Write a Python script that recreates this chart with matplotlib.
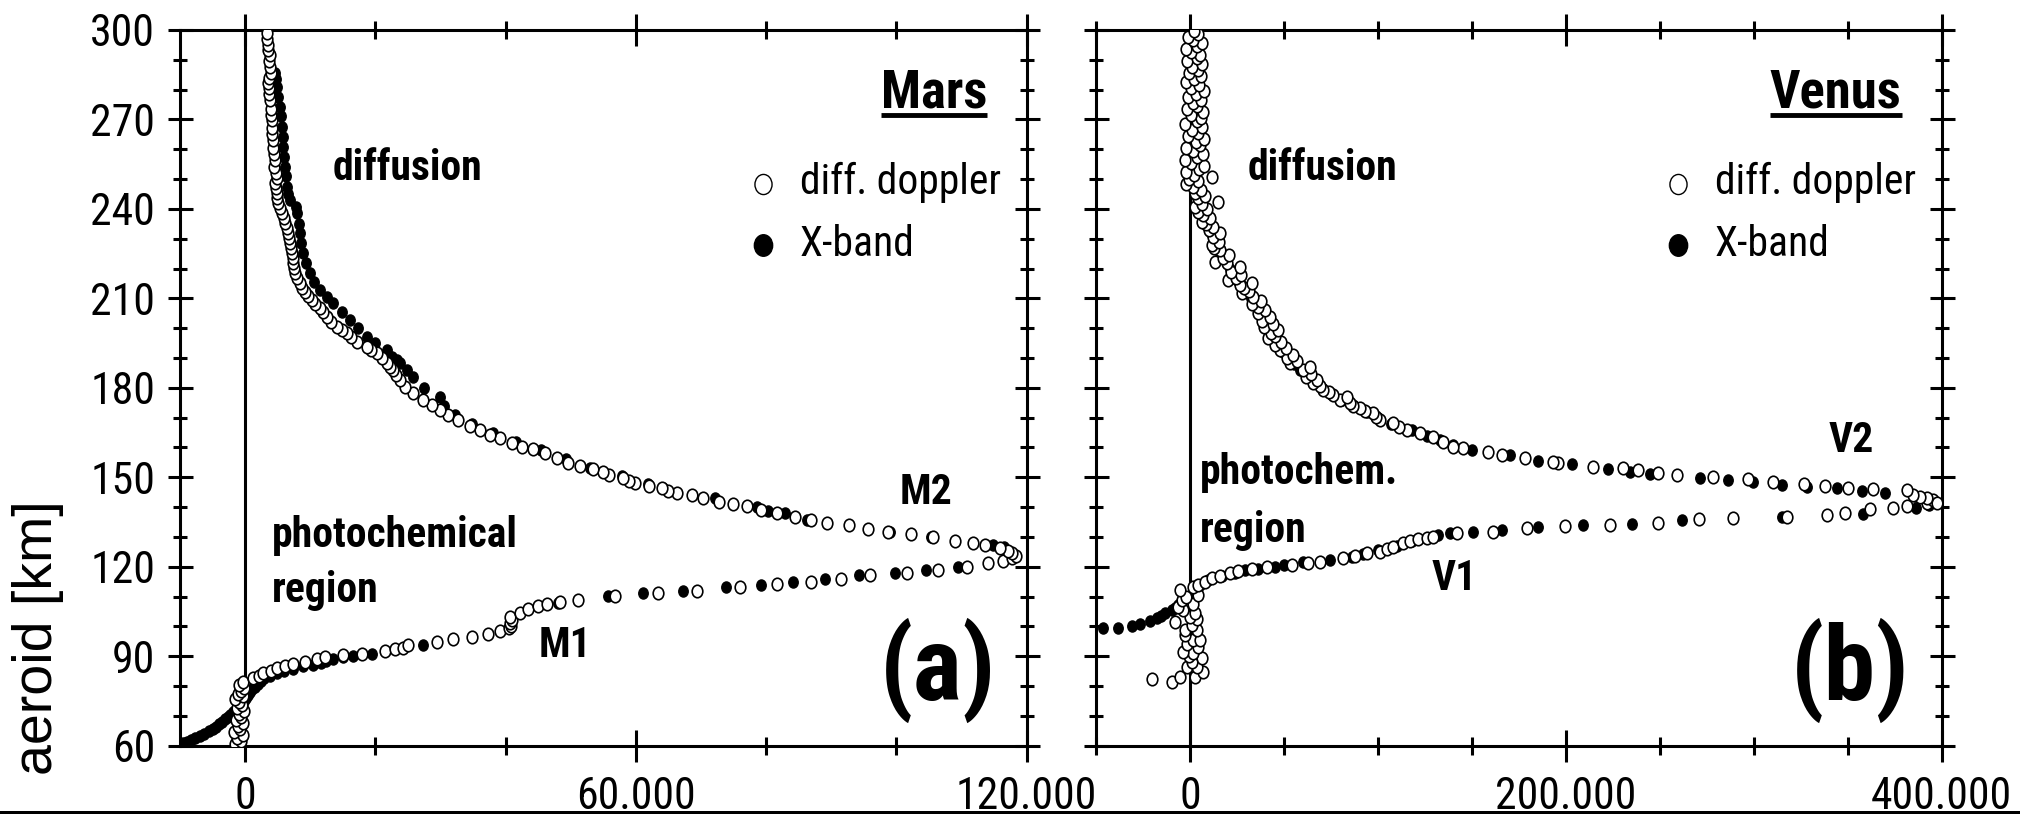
import numpy as np
import matplotlib
matplotlib.use("Agg")
import matplotlib.pyplot as plt
from matplotlib import font_manager
from matplotlib.lines import Line2D
from matplotlib.markers import MarkerStyle
from matplotlib.path import Path
from matplotlib.patches import Rectangle
from matplotlib.ticker import FixedLocator, FuncFormatter
from matplotlib.transforms import Affine2D

# ---------------------------------------------------------------------------
# Electron density profiles: (altitude [km], density [cm^-3])
# ---------------------------------------------------------------------------
MARS_DIFF_BASE = [(60.5, -1500), (61.5, -600), (62.5, -1200), (63.5, -300), (64.5, -1700),
                  (65.5, -800), (66.5, -1100), (67.5, -400), (68.5, -1400), (69.5, -700),
                  (70.5, -1000), (71.5, -200), (72.5, -1300), (73.5, -500), (74.5, -900),
                  (75.5, -1600), (76.5, -300), (77.5, -1100), (78.5, -600), (79.5, -200),
                  (80.5, -900), (81.5, -400)]
MARS_DIFF_M1 = [(82.6, 1260), (83.5, 2100), (84.3, 2800), (85.1, 3900), (85.9, 4850),
                (86.7, 6100), (87.4, 7400), (88.2, 9200), (89.0, 11000), (89.9, 12270),
                (90.5, 15000), (90.9, 17900), (91.7, 21480), (92.3, 23000), (92.8, 24300),
                (93.6, 25070), (94.7, 29420), (95.8, 31970), (96.6, 34800), (97.5, 37350),
                (98.4, 39140), (99.4, 40500), (100.3, 40900), (101.0, 40700), (102.0, 41000),
                (103.3, 40600), (104.4, 42210), (105.7, 43490), (106.8, 45020), (107.6, 46300),
                (108.3, 48400), (108.9, 51170), (110.2, 56800), (111.1, 63450), (112.0, 69440),
                (113.3, 76000), (114.2, 81630), (115.0, 86900), (115.8, 91500), (117.2, 95960),
                (118.0, 101600), (118.9, 106450), (120.0, 110800), (121.1, 114130),
                (121.9, 116340), (122.8, 117720), (123.7, 118300)]
MARS_DIFF_M2 = [(124.5, 117720), (125.4, 117200), (126.2, 115920), (127.3, 113620),
                (128.1, 111820), (128.7, 109010), (130.1, 105590), (131.0, 102210),
                (131.8, 98770), (132.6, 95700), (134.0, 92740), (134.8, 89400), (135.7, 86850),
                (136.8, 84440), (137.9, 81630), (139.2, 79200), (140.4, 77030), (141.0, 74970),
                (141.8, 72820), (142.9, 70270), (144.1, 68580), (144.8, 66280), (145.5, 65000),
                (146.3, 63970), (147.2, 62000), (148.0, 59880), (148.8, 59000), (149.7, 58080),
                (150.8, 55900), (151.9, 55010), (152.7, 53470), (153.8, 51430), (154.9, 49630),
                (156.4, 47850), (158.0, 46050), (159.4, 44260), (160.3, 42470), (161.4, 40940),
                (163.1, 39140), (164.2, 37610), (165.9, 36070), (167.2, 34540), (169.2, 32740),
                (170.9, 31200), (172.6, 29930), (174.2, 28660), (175.9, 27370), (178.2, 25830),
                (180.4, 24560)]
MARS_DIFF_TOP = [(182.6, 23790), (184.3, 23200), (186.0, 22760), (187.1, 22200), (188.2, 21740),
                 (190.0, 21000), (191.6, 20210), (192.7, 19400), (193.8, 18680), (195.5, 17140),
                 (196.9, 16300), (198.3, 15600), (199.4, 14800), (200.5, 14070), (202.2, 13200),
                 (203.9, 12530), (205.3, 11900), (206.7, 11500), (208.1, 10800), (209.5, 10230),
                 (210.9, 9700), (212.2, 9200), (213.6, 8800), (215.1, 8430), (216.8, 8000),
                 (218.4, 7660), (220.1, 7500), (221.8, 7400), (223.5, 7300), (225.1, 7150),
                 (226.8, 7000), (228.5, 6900), (230.1, 6800), (231.8, 6630), (233.5, 6400),
                 (235.2, 6130), (236.9, 5900), (238.5, 5620), (240.2, 5350), (241.9, 5100),
                 (243.5, 4950), (245.2, 4850), (246.9, 4700), (248.6, 4590), (250.3, 4850),
                 (252.0, 4700), (254.0, 4500), (256.4, 4590), (258.5, 4400), (260.5, 4300),
                 (263.1, 4330), (265.0, 4100), (267.0, 4200), (269.8, 4080), (271.5, 3900),
                 (273.5, 4000), (276.5, 3820), (278.5, 3600), (280.5, 3700), (282.1, 3560),
                 (284.0, 3700), (285.5, 3900), (287.7, 3820), (289.5, 3600), (291.5, 3750),
                 (293.3, 3560), (295.0, 3450), (297.0, 3400), (298.9, 3320)]

MARS_XBAND_BASE = [(60.3, -10000), (60.8, -9500), (61.4, -8900), (62.0, -8300), (62.6, -7700),
                   (63.3, -7000), (64.0, -6300), (64.8, -5600), (65.6, -5000), (66.4, -4500),
                   (67.2, -4000), (68.0, -3500), (68.8, -3100), (69.6, -2700), (70.4, -2300),
                   (71.3, -1900), (72.2, -1400), (73.1, -900), (74.0, -500), (75.0, -100),
                   (76.0, 200), (77.0, 500), (78.0, 800), (79.0, 1100), (79.8, 1500),
                   (80.8, 2000), (81.7, 2400), (82.6, 2900), (83.5, 3800), (84.3, 4850),
                   (85.0, 5900), (85.6, 7400), (86.6, 8940), (87.2, 10470), (87.8, 11600),
                   (88.4, 12400), (89.0, 13550), (89.6, 15000), (90.1, 16570), (90.6, 19440),
                   (93.6, 27370)]
MARS_XBAND_M1 = [(108.0, 48100), (110.2, 55780), (111.1, 61050), (112.0, 67290), (113.3, 73800),
                 (113.9, 79180), (115.0, 84180), (115.8, 89050), (117.2, 94270), (118.0, 99800),
                 (118.9, 104560), (120.0, 109520)]
MARS_XBAND_M2 = [(126.6, 116500), (127.3, 114900), (130.1, 105300), (131.8, 99000),
                 (135.7, 86300), (137.9, 82910), (138.7, 80350), (140.1, 78560), (143.0, 72160),
                 (146.3, 64200), (147.8, 61920), (150.3, 57800), (153.2, 53000), (156.0, 49200),
                 (159.0, 45400), (162.0, 41600), (165.0, 38000), (168.0, 34800), (171.0, 32200),
                 (174.0, 30500), (177.0, 29930)]
MARS_XBAND_TOP = [(180.0, 27500), (183.7, 25830), (186.0, 24800), (188.2, 23790), (189.3, 23280),
                  (190.5, 22600), (192.7, 21740), (195.0, 20000), (197.1, 18680), (200.0, 17300),
                  (202.7, 16110), (205.5, 14800), (208.3, 13540), (210.5, 12500), (212.8, 11500),
                  (215.5, 10600), (218.4, 9970), (221.7, 9400), (225.1, 8940), (228.5, 8650),
                  (231.8, 8430), (235.0, 8200), (238.5, 7920), (240.6, 7770), (243.0, 6900),
                  (245.0, 6600), (247.5, 6390), (251.0, 6250), (254.2, 6130), (257.5, 6000),
                  (260.9, 5870), (264.0, 5750), (267.6, 5620), (271.0, 5500), (274.3, 5360),
                  (277.5, 5100), (281.0, 4850), (283.5, 4700), (285.5, 4590)]

VENUS_DIFF_LOW = [(81.4, -9800), (82.2, -20400), (83.1, -5300), (83.1, 2700), (84.8, 7100),
                  (86.5, -1800), (86.5, 3600), (88.0, 1000), (89.3, 6200), (90.2, -500),
                  (91.0, 1800), (91.5, -3500), (93.0, 4500), (94.0, -1500), (95.4, 1800),
                  (95.4, 5300), (97.0, -2500), (98.8, -2700), (98.8, 3600), (100.5, 900),
                  (101.6, -8000), (102.5, 4000), (103.3, 0), (104.5, 2500), (105.5, -3500),
                  (106.5, -6500), (107.5, 1500), (108.9, -4400), (110.0, -2000), (110.6, 4400),
                  (112.2, -5300), (113.3, 1800), (113.9, 4400)]
VENUS_DIFF_V1 = [(115.0, 8000), (116.1, 11500), (116.9, 16000), (118.0, 21300), (118.6, 25500),
                 (119.3, 33000), (120.0, 41000), (120.6, 54100), (121.1, 62900), (121.7, 69200),
                 (122.8, 81600), (123.6, 88000), (124.5, 94000), (125.0, 101100), (126.0, 105000),
                 (126.7, 108200), (127.9, 113500), (128.7, 117100), (129.3, 121500),
                 (129.6, 125900), (130.1, 129500), (131.3, 141900), (131.8, 161400),
                 (132.9, 179100), (133.6, 199500), (134.0, 223500), (134.8, 249200),
                 (135.9, 271000), (136.2, 288800), (136.8, 317600), (137.4, 338800),
                 (138.1, 348500), (139.3, 361800), (139.6, 373900), (140.4, 381400),
                 (141.3, 392000), (142.4, 395600)]
VENUS_DIFF_V2 = [(141.3, 397400), (143.0, 392000), (143.5, 388500), (144.1, 384900),
                 (145.7, 381400), (146.0, 363600), (146.3, 350300), (147.1, 337900),
                 (147.6, 327000), (148.5, 310400), (149.3, 297100), (150.0, 278500),
                 (150.8, 259000), (151.6, 249200), (152.3, 238600), (153.0, 230600),
                 (153.6, 214600), (154.7, 196000), (155.3, 193000), (156.4, 178300),
                 (157.5, 165800), (158.6, 158700)]
VENUS_DIFF_TOP = [(159.7, 145400), (160.3, 140100), (161.9, 134800), (163.6, 129500),
                  (164.8, 122400), (165.9, 115300), (167.0, 111000), (168.1, 108200),
                  (169.2, 101100), (170.3, 99000), (171.5, 97500), (172.3, 93000), (173.1, 90500),
                  (174.0, 87000), (174.8, 85100), (176.0, 80000), (177.0, 83400), (177.6, 76300),
                  (178.5, 74000), (179.3, 71000), (180.5, 69000), (181.5, 65600), (182.5, 67500),
                  (183.5, 62000), (184.5, 64500), (186.0, 60300), (187.1, 63900), (188.2, 53200),
                  (189.0, 57000), (190.0, 51500), (191.0, 55000), (192.7, 47900), (193.5, 51000),
                  (194.5, 45000), (195.5, 48500), (196.6, 41700), (197.5, 45500), (198.5, 43000),
                  (199.5, 47000), (200.5, 39500), (201.5, 44000), (202.5, 38500), (203.9, 42600),
                  (205.0, 36000), (206.0, 40000), (207.2, 36300), (208.0, 33000), (209.0, 38000),
                  (210.6, 33700), (211.7, 27500), (212.5, 31500), (213.5, 29000), (214.5, 26600),
                  (215.1, 32800), (216.2, 20400), (217.0, 24500), (218.0, 27000), (219.0, 22000),
                  (220.6, 26600), (221.8, 19500), (222.3, 13300), (223.5, 17500), (224.5, 21000),
                  (226.2, 16000), (227.0, 13000), (227.9, 11500), (229.0, 15500), (230.5, 12500),
                  (231.8, 16000), (233.0, 10000), (234.0, 12400), (235.0, 8500), (235.7, 6200),
                  (237.0, 10500), (238.0, 7000), (239.0, 4500), (240.0, 9000), (240.7, 2700),
                  (241.5, 6500), (242.4, 15100), (243.5, 4500), (244.5, 8000), (245.5, 2500),
                  (246.5, 6000), (247.5, 1800), (248.3, -2200), (249.2, 4500), (250.0, -500),
                  (250.8, 11500), (251.5, 2000), (252.5, -2200), (253.5, 5000), (254.5, 7500),
                  (255.5, 500), (256.5, -2500), (257.5, 4000), (258.5, 7000), (259.5, 1500),
                  (260.5, -2000), (261.5, 5500), (262.5, 3000), (263.5, 7500), (264.5, -1000),
                  (265.5, 4500), (266.5, 1000), (267.5, 6500), (268.5, -2500), (269.5, 3500),
                  (270.5, 6000), (271.5, 500), (272.5, 7000), (273.5, -1500), (274.5, 4000),
                  (275.5, 1500), (276.5, 6000), (277.5, -1000), (278.5, 3000), (279.5, 7500),
                  (280.5, 500), (281.5, 5000), (282.5, -2000), (283.5, 2000), (284.5, 6000),
                  (285.5, -500), (286.5, 4500), (287.5, 1000), (288.5, 6500), (289.5, -1500),
                  (290.5, 3500), (291.5, 5500), (292.5, 500), (293.5, -2000), (294.5, 4000),
                  (295.5, 6500), (296.5, 1500), (297.5, -1000), (298.5, 4500), (299.5, 2000)]

VENUS_XBAND_LOW = [(99.4, -46100), (99.6, -38200), (100.1, -31000), (100.8, -26600),
                   (101.9, -21300), (102.7, -17700), (103.5, -15500), (104.4, -13300),
                   (105.5, -9700), (106.3, -8000), (107.2, -6200), (108.1, -4800), (108.9, -3500),
                   (110.0, -900), (111.6, 1800), (113.0, 3500), (113.9, 5300)]
VENUS_XBAND_V1 = [(115.5, 9500), (117.0, 17000), (118.0, 24000), (118.9, 29300), (119.1, 36300),
                  (120.0, 45200), (120.6, 50000), (121.5, 60000), (122.3, 74500), (123.2, 86000),
                  (124.3, 92200), (125.5, 100000), (127.0, 110000), (128.5, 118000),
                  (130.7, 132100), (131.3, 138300), (131.8, 150700), (132.4, 165800),
                  (133.3, 185300), (134.0, 209300), (134.5, 235000), (135.7, 261600),
                  (136.8, 314900), (137.7, 357900), (139.6, 386300), (140.8, 393000)]
VENUS_XBAND_V2 = [(142.6, 393000), (143.6, 386000), (144.6, 369800), (145.5, 357400),
                  (146.3, 344100), (146.9, 328200), (147.4, 314900), (148.5, 299700),
                  (149.1, 286400), (149.7, 271400), (151.1, 244800), (151.9, 234100),
                  (152.8, 222600), (154.4, 203100), (155.5, 185300), (157.5, 170300),
                  (159.2, 149900)]
VENUS_XBAND_TOP = [(160.8, 140000), (162.5, 133000), (164.0, 126000), (166.0, 118000),
                   (168.0, 107000), (170.0, 100000), (172.0, 94000), (174.0, 87500),
                   (176.0, 81000), (178.0, 75000), (180.0, 70000), (182.0, 66000), (184.0, 62000),
                   (186.0, 58500), (188.0, 55500), (190.0, 52500), (192.0, 49500), (194.0, 47000),
                   (196.0, 44500), (198.0, 42500), (200.0, 41500), (202.0, 40000), (204.0, 38500),
                   (206.0, 37000), (208.0, 35000), (210.0, 32500), (212.0, 30000), (214.0, 27500),
                   (216.0, 25000), (218.0, 23000), (220.0, 21500), (222.0, 19500), (224.0, 17500),
                   (226.0, 15500), (228.0, 14000), (230.0, 12500), (232.0, 11000), (234.0, 9500),
                   (236.0, 8000), (238.0, 7000), (240.0, 5500), (242.0, 4500), (244.0, 3500),
                   (246.0, 2500), (248.0, 2000), (250.0, 1500), (253.0, 1000), (256.0, 2000),
                   (259.0, 1500), (262.0, 1000), (265.0, 2000), (268.0, 1500), (271.0, 1000),
                   (274.0, 2500), (277.0, 1500), (280.0, 1000), (283.0, 2000), (286.0, 1500),
                   (289.0, 1000), (292.0, 2000), (295.0, 1500), (298.0, 1000)]

# Axis settings
ALT_RANGE = (60, 300)
ALT_MAJOR = list(range(60, 301, 30))
ALT_MINOR = list(range(60, 301, 10))
MARS_RANGE = (-10000, 120000)
MARS_MAJOR = [0, 60000, 120000]
MARS_MINOR = [20000, 40000, 80000, 100000]
VENUS_RANGE = (-50000, 400000)
VENUS_MAJOR = [0, 200000, 400000]
VENUS_MINOR = [-50000, 50000, 100000, 150000, 250000, 300000, 350000]
LEGEND_LABELS = ["diff. doppler", "X-band"]


def pairs(*segments):
    arr = np.array([p for seg in segments for p in seg], dtype=float)
    return arr[:, 0], arr[:, 1]


# ---------------------------------------------------------------------------
# Fonts: prefer a narrow sans face, fall back to the regular one
# ---------------------------------------------------------------------------
def pick_narrow_font():
    fonts = font_manager.fontManager.ttflist
    names = {f.name for f in fonts}
    for name in ("Liberation Sans Narrow", "Arial Narrow"):
        if name in names:
            return name, "normal", 1.0
    for fam in ("Noto Sans", "Roboto", "Open Sans", "DejaVu Sans", "Lato", "Inter"):
        for stretch, scale in (("semi-condensed", 0.97), ("condensed", 1.0)):
            weights = {f.weight for f in fonts if f.name == fam and f.stretch == stretch}
            if len(weights) >= 2:
                return fam, stretch, scale
        for suffix, scale in ((" SemiCondensed", 0.97), (" Condensed", 1.0)):
            if fam + suffix in names:
                return fam + suffix, "normal", scale
    return "Liberation Sans", "normal", 0.9


FAMILY, STRETCH, SCALE = pick_narrow_font()
plt.rcParams["font.family"] = [FAMILY, "DejaVu Sans"]
plt.rcParams["font.stretch"] = STRETCH

TICK_SIZE = 31.5 * SCALE
LEGEND_SIZE = 30 * SCALE
LABEL_SIZE = 30 * SCALE
TITLE_SIZE = 38 * SCALE
PANEL_SIZE = 75 * SCALE

# slightly squeezed circle used as marker
ELLIPSE = MarkerStyle(Affine2D().scale(0.85, 1.0).transform_path(Path.unit_circle()))

LW = 2.2

fig = plt.figure(figsize=(20.2, 8.14), dpi=100)
ax_m = fig.add_axes([0.08911, 0.08391, 0.41911, 0.87924])
ax_v = fig.add_axes([0.54257, 0.08391, 0.41866, 0.87924])

thousands = FuncFormatter(lambda v, _: f"{v:,.0f}".replace(",", "."))


def style_axes(ax, xrange, xmajor, xminor, show_ylabels):
    ax.set_xlim(*xrange)
    ax.set_ylim(*ALT_RANGE)
    ax.xaxis.set_major_locator(FixedLocator(xmajor))
    ax.xaxis.set_minor_locator(FixedLocator(xminor))
    ax.xaxis.set_major_formatter(thousands)
    ax.yaxis.set_major_locator(FixedLocator(ALT_MAJOR))
    ax.yaxis.set_minor_locator(FixedLocator(ALT_MINOR))
    for sp in ax.spines.values():
        sp.set_linewidth(LW)
    ax.tick_params(which="both", direction="inout", top=True, right=True,
                   width=LW, colors="black")
    ax.tick_params(axis="x", which="major", length=23, pad=10, labelsize=TICK_SIZE)
    ax.tick_params(axis="x", which="minor", length=13)
    ax.tick_params(axis="y", which="major", length=18, pad=9, labelsize=TICK_SIZE,
                   labelleft=show_ylabels)
    ax.tick_params(axis="y", which="minor", length=10)
    ax.axvline(0, color="black", lw=LW, zorder=1)


def draw_profiles(ax, diff, xband):
    ax.plot(xband[1], xband[0], ls="none", marker=ELLIPSE, ms=8, mfc="black",
            mec="black", mew=1.0, zorder=2)
    ax.plot(diff[1], diff[0], ls="none", marker=ELLIPSE, ms=9, mfc="white",
            mec="black", mew=1.2, zorder=3)


def add_legend(ax, anchor_x):
    handles = [Line2D([], [], ls="none", marker=ELLIPSE, ms=14.5, mfc="white",
                      mec="black", mew=1.0),
               Line2D([], [], ls="none", marker=ELLIPSE, ms=15.5, mfc="black",
                      mec="black", mew=1.0)]
    ax.legend(handles, LEGEND_LABELS, loc="upper left", bbox_to_anchor=(anchor_x, 0.8161),
              frameon=False, borderpad=0, borderaxespad=0, handlelength=0.8,
              handleheight=0.0, handletextpad=0.49, labelspacing=0.5,
              prop={"size": LEGEND_SIZE}, numpoints=1)


def bold(ax, x, y, s, size=LABEL_SIZE, ha="left"):
    return ax.text(x, y, s, transform=ax.transAxes, ha=ha, va="baseline",
                   fontsize=size, fontweight="bold")


# Mars
style_axes(ax_m, MARS_RANGE, MARS_MAJOR, MARS_MINOR, True)
draw_profiles(ax_m,
              pairs(MARS_DIFF_BASE, MARS_DIFF_M1, MARS_DIFF_M2, MARS_DIFF_TOP),
              pairs(MARS_XBAND_BASE, MARS_XBAND_M1, MARS_XBAND_M2, MARS_XBAND_TOP))
add_legend(ax_m, 0.6689)
mars_title = bold(ax_m, 0.9532, 0.8924, "Mars", TITLE_SIZE, "right")
bold(ax_m, 0.1807, 0.7904, "diffusion")
bold(ax_m, 0.1087, 0.2781, "photochemical")
bold(ax_m, 0.1087, 0.2005, "region")
bold(ax_m, 0.4235, 0.1239, "M1")
bold(ax_m, 0.8505, 0.3377, "M2")
bold(ax_m, 0.9639, 0.0639, "(a)", PANEL_SIZE, "right")

# Venus
style_axes(ax_v, VENUS_RANGE, VENUS_MAJOR, VENUS_MINOR, False)
draw_profiles(ax_v,
              pairs(VENUS_DIFF_LOW, VENUS_DIFF_V1, VENUS_DIFF_V2, VENUS_DIFF_TOP),
              pairs(VENUS_XBAND_LOW, VENUS_XBAND_V1, VENUS_XBAND_V2, VENUS_XBAND_TOP))
add_legend(ax_v, 0.6681)
venus_title = bold(ax_v, 0.9527, 0.8924, "Venus", TITLE_SIZE, "right")
bold(ax_v, 0.1797, 0.7904, "diffusion")
bold(ax_v, 0.1230, 0.3657, "photochem.")
bold(ax_v, 0.1230, 0.2842, "region")
bold(ax_v, 0.3970, 0.2176, "V1")
bold(ax_v, 0.8659, 0.4108, "V2")
bold(ax_v, 0.9622, 0.0639, "(b)", PANEL_SIZE, "right")

# y-axis title
fig.text(0.0188, 0.2162, "aeroid [km]", rotation=90, ha="center", va="center",
         fontsize=40, family=["Liberation Sans", "DejaVu Sans"], stretch="normal")

# underline the planet names
fig.canvas.draw()
renderer = fig.canvas.get_renderer()
for ax, title in ((ax_m, mars_title), (ax_v, venus_title)):
    bb = title.get_window_extent(renderer).transformed(ax.transAxes.inverted())
    ax.plot([bb.x0, bb.x1], [0.8806, 0.8806], transform=ax.transAxes, color="black",
            lw=3.5, solid_capstyle="butt", clip_on=False)

# dark strip along the lower edge
fig.add_artist(Rectangle((0, 0), 1, 3.5 / 814, transform=fig.transFigure,
                         facecolor="black", edgecolor="none", zorder=10))

fig.savefig("out.png", dpi=100)
